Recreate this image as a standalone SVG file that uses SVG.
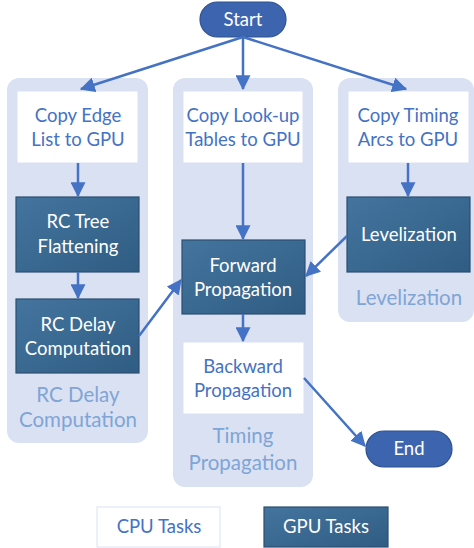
<svg xmlns="http://www.w3.org/2000/svg" width="474" height="548" viewBox="0 0 474 548">
<defs>
<linearGradient id="g" x1="0" y1="0" x2="1" y2="1">
<stop offset="0" stop-color="#44759f"/>
<stop offset="1" stop-color="#2f5c82"/>
</linearGradient>
<marker id="ah" markerWidth="6" markerHeight="6" refX="5.5" refY="3" orient="auto" markerUnits="strokeWidth">
<path d="M0,0 L6,3 L0,6 Z" fill="#4472c4"/>
</marker>
<style>
.grp{fill:#dae1f3}
.cpu{fill:#ffffff;stroke:#dae1f3;stroke-width:1}
.gpu{fill:url(#g);stroke:#2c4f70;stroke-width:1.2}
.pill{fill:#3d64ae;stroke:#2f528f;stroke-width:1.2}
text{font-family:Lato,"Open Sans","Liberation Sans",sans-serif;text-anchor:middle}
.t{font-size:18.5px;fill:#4472c4}
.w{font-size:18.5px;fill:#ffffff}
.gl{font-size:20.5px;fill:#7fa5d6}
.c{stroke:#4472c4;stroke-width:2.5;fill:none;marker-end:url(#ah)}
</style>
</defs>
<g id="group-rc">
<rect class="grp" x="7" y="78" width="141" height="365" rx="12"/>
<text class="gl" x="78" y="402">RC Delay</text>
<text class="gl" x="78" y="427">Computation</text>
</g>
<g id="group-timing">
<rect class="grp" x="173" y="78" width="140" height="409" rx="12"/>
<text class="gl" x="243" y="443">Timing</text>
<text class="gl" x="243" y="470">Propagation</text>
</g>
<g id="group-lev">
<rect class="grp" x="338" y="78" width="136" height="244" rx="12"/>
<text class="gl" x="409" y="305">Levelization</text>
</g>
<g id="start">
<rect class="pill" x="200" y="2" width="86" height="35" rx="17.5"/>
<text class="w" x="243" y="26">Start</text>
</g>
<g id="copy-edge">
<rect class="cpu" x="17" y="91" width="121" height="72"/>
<text class="t" x="78" y="122">Copy Edge</text>
<text class="t" x="78" y="146">List to GPU</text>
</g>
<g id="copy-lut">
<rect class="cpu" x="183" y="91" width="120" height="72"/>
<text class="t" x="243" y="122">Copy Look-up</text>
<text class="t" x="243" y="146">Tables to GPU</text>
</g>
<g id="copy-arcs">
<rect class="cpu" x="348" y="91" width="121" height="72"/>
<text class="t" x="408" y="122">Copy Timing</text>
<text class="t" x="408" y="146">Arcs to GPU</text>
</g>
<g id="rc-tree">
<rect class="gpu" x="16" y="197" width="123" height="75"/>
<text class="w" x="78" y="228">RC Tree</text>
<text class="w" x="78" y="253">Flattening</text>
</g>
<g id="rc-delay">
<rect class="gpu" x="16" y="299" width="123" height="74"/>
<text class="w" x="78" y="331">RC Delay</text>
<text class="w" x="78" y="355">Computation</text>
</g>
<g id="levelization">
<rect class="gpu" x="347" y="197" width="123" height="75"/>
<text class="w" x="409" y="241">Levelization</text>
</g>
<g id="forward">
<rect class="gpu" x="182" y="240" width="123" height="74"/>
<text class="w" x="243" y="272">Forward</text>
<text class="w" x="243" y="296">Propagation</text>
</g>
<g id="backward">
<rect class="cpu" x="183" y="342" width="121" height="72"/>
<text class="t" x="243" y="373">Backward</text>
<text class="t" x="243" y="397">Propagation</text>
</g>
<g id="end">
<rect class="pill" x="366" y="431" width="86" height="36" rx="18"/>
<text class="w" x="409" y="455">End</text>
</g>
<g id="legend-cpu">
<rect class="cpu" x="97" y="507" width="123" height="40"/>
<text class="t" x="159" y="533">CPU Tasks</text>
</g>
<g id="legend-gpu">
<rect class="gpu" x="264" y="507" width="124" height="40"/>
<text class="w" x="326" y="533">GPU Tasks</text>
</g>
<g id="connectors">
<line class="c" x1="243" y1="37" x2="81" y2="89"/>
<line class="c" x1="243" y1="37" x2="243" y2="89"/>
<line class="c" x1="243" y1="37" x2="406" y2="89"/>
<line class="c" x1="78" y1="163" x2="78" y2="196"/>
<line class="c" x1="78" y1="272" x2="78" y2="298"/>
<line class="c" x1="408" y1="163" x2="408" y2="196"/>
<line class="c" x1="243" y1="163" x2="243" y2="239"/>
<line class="c" x1="139" y1="336" x2="181" y2="280"/>
<line class="c" x1="347" y1="236" x2="306" y2="276"/>
<line class="c" x1="243" y1="314" x2="243" y2="341"/>
<line class="c" x1="304" y1="378" x2="365" y2="446"/>
</g>
</svg>
